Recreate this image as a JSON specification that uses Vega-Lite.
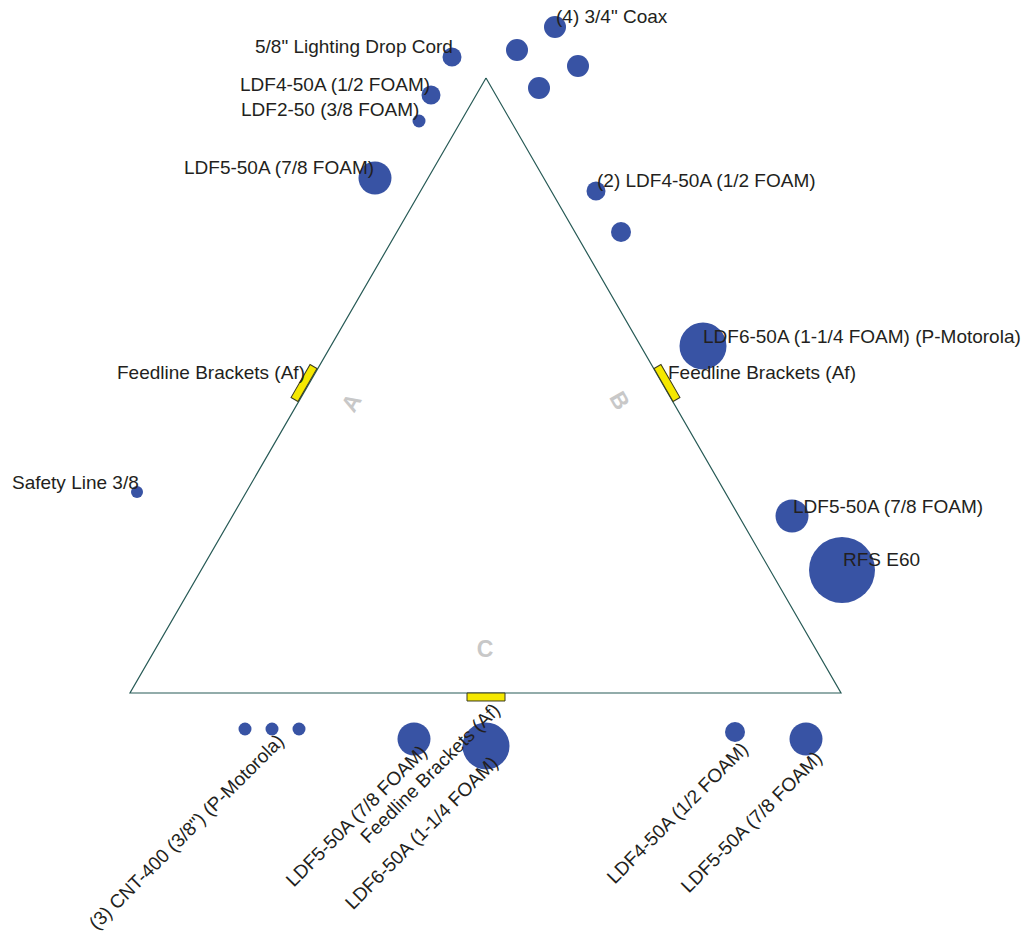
{
  "$schema": "https://vega.github.io/schema/vega-lite/v6.json",
  "width": 1026,
  "height": 934,
  "autosize": {"type": "none"},
  "padding": 0,
  "background": "white",
  "config": {"view": {"stroke": null}, "axis": {"disable": true}},
  "encoding": {
    "x": {"field": "x", "type": "quantitative", "scale": {"domain": [0, 1026], "nice": false, "zero": false}, "axis": null},
    "y": {"field": "y", "type": "quantitative", "scale": {"domain": [0, 934], "nice": false, "zero": false, "reverse": true}, "axis": null}
  },
  "layer": [
    {
      "data": {"values": [
        {"i": 0, "x": 486, "y": 78},
        {"i": 1, "x": 841, "y": 693},
        {"i": 2, "x": 130, "y": 693},
        {"i": 3, "x": 486, "y": 78}
      ]},
      "mark": {"type": "line", "color": "#275a56", "strokeWidth": 1.2},
      "encoding": {"order": {"field": "i", "type": "quantitative"}}
    },
    {
      "data": {"values": [
        {"face": "A", "x": 352, "y": 403, "a": 300},
        {"face": "B", "x": 619, "y": 401, "a": 60},
        {"face": "C", "x": 485, "y": 650, "a": 0}
      ]},
      "mark": {"type": "text", "font": "Liberation Sans", "fontWeight": "bold", "fontSize": 23, "color": "#c8c8c8", "align": "center", "baseline": "middle"},
      "encoding": {"text": {"field": "face"}, "angle": {"field": "a", "type": "quantitative", "scale": null}}
    },
    {
      "data": {"values": [
        {"x": 304, "y": 383, "a": 300},
        {"x": 667, "y": 383, "a": 60},
        {"x": 486, "y": 697, "a": 0}
      ]},
      "mark": {"type": "point", "filled": true, "shape": "M-1,-0.21L1,-0.21L1,0.21L-1,0.21Z", "size": 1444, "fill": "#f5e800", "stroke": "#3a3a20", "strokeWidth": 1, "opacity": 1},
      "encoding": {"angle": {"field": "a", "type": "quantitative", "scale": null}}
    },
    {
      "data": {"values": [
        {"x": 555, "y": 27, "d": 22},
        {"x": 517, "y": 50, "d": 22},
        {"x": 578, "y": 66, "d": 22},
        {"x": 539, "y": 88, "d": 22},
        {"x": 452, "y": 57, "d": 19},
        {"x": 431, "y": 95, "d": 19},
        {"x": 419, "y": 121, "d": 13},
        {"x": 375, "y": 178, "d": 33},
        {"x": 596, "y": 191, "d": 19},
        {"x": 621, "y": 232, "d": 20},
        {"x": 703, "y": 346, "d": 47},
        {"x": 792, "y": 516, "d": 33},
        {"x": 842, "y": 570, "d": 66},
        {"x": 137, "y": 492, "d": 12},
        {"x": 245, "y": 729, "d": 13},
        {"x": 272, "y": 729, "d": 13},
        {"x": 299, "y": 729, "d": 13},
        {"x": 414, "y": 739, "d": 33},
        {"x": 486, "y": 746, "d": 47},
        {"x": 735, "y": 732, "d": 20},
        {"x": 806, "y": 739, "d": 33}
      ]},
      "transform": [{"calculate": "datum.d * datum.d", "as": "area"}],
      "mark": {"type": "point", "filled": true, "shape": "circle", "color": "#3853a4", "opacity": 1},
      "encoding": {"size": {"field": "area", "type": "quantitative", "scale": null}}
    },
    {
      "data": {"values": [
        {"x": 556, "y": 17, "label": "(4) 3/4\" Coax"},
        {"x": 255, "y": 47, "label": "5/8\" Lighting Drop Cord"},
        {"x": 240, "y": 85, "label": "LDF4-50A (1/2 FOAM)"},
        {"x": 241, "y": 110, "label": "LDF2-50 (3/8 FOAM)"},
        {"x": 184, "y": 168, "label": "LDF5-50A (7/8 FOAM)"},
        {"x": 597, "y": 181, "label": "(2) LDF4-50A (1/2 FOAM)"},
        {"x": 703, "y": 337, "label": "LDF6-50A (1-1/4 FOAM) (P-Motorola)"},
        {"x": 668, "y": 373, "label": "Feedline Brackets (Af)"},
        {"x": 117, "y": 373, "label": "Feedline Brackets (Af)"},
        {"x": 12, "y": 483, "label": "Safety Line 3/8"},
        {"x": 793, "y": 507, "label": "LDF5-50A (7/8 FOAM)"},
        {"x": 843, "y": 560, "label": "RFS E60"}
      ]},
      "mark": {"type": "text", "font": "Liberation Sans", "fontSize": 19, "color": "#231f20", "align": "left", "baseline": "middle"},
      "encoding": {"text": {"field": "label"}}
    },
    {
      "data": {"values": [
        {"x": 281, "y": 738, "label": "(3) CNT-400 (3/8\") (P-Motorola)"},
        {"x": 424, "y": 749, "label": "LDF5-50A (7/8 FOAM)"},
        {"x": 497, "y": 707, "label": "Feedline Brackets (Af)"},
        {"x": 495, "y": 760, "label": "LDF6-50A (1-1/4 FOAM)"},
        {"x": 745, "y": 746, "label": "LDF4-50A (1/2 FOAM)"},
        {"x": 819, "y": 755, "label": "LDF5-50A (7/8 FOAM)"}
      ]},
      "mark": {"type": "text", "font": "Liberation Sans", "fontSize": 19, "color": "#231f20", "align": "right", "baseline": "middle", "angle": 315},
      "encoding": {"text": {"field": "label"}}
    }
  ]
}
